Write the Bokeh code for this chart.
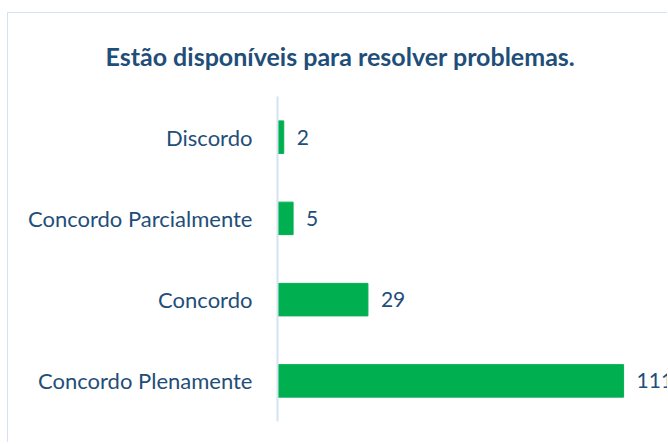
from bokeh.plotting import figure
from bokeh.models import ColumnDataSource, Title
from bokeh.embed import file_html
from bokeh.resources import INLINE
from bokeh.core.properties import value

categories = ["Concordo Plenamente", "Concordo", "Concordo Parcialmente", "Discordo"]
counts = [111, 29, 5, 2]
labels = [str(c) for c in counts]
title_text = "Estão disponíveis para resolver problemas."

FONT = "Lato"
TXT = "#1F4E79"

src = ColumnDataSource(dict(cat=categories, val=counts, lab=labels))

p = figure(width=660, height=430, y_range=categories, x_range=(0, 125.4),
           output_backend="svg", toolbar_location=None,
           min_border_left=269, min_border_right=0, min_border_top=83, min_border_bottom=22)

p.hbar(y="cat", right="val", left=0, height=0.4, source=src,
       fill_color="#00B050", line_color="#00B050")
p.text(x="val", y="cat", text="lab", source=src, x_offset=13,
       text_baseline="middle", text_align="left",
       text_font=value(FONT), text_font_size="21px", text_color=TXT)

t = Title(text=title_text, align="left", offset=-172, vertical_align="top",
          text_font=FONT, text_font_size="25px", text_font_style="bold",
          text_color=TXT, standoff=48)
p.add_layout(t, "above")

p.xaxis.visible = False
p.xgrid.visible = False
p.ygrid.visible = False
p.outline_line_color = None
yax = p.yaxis[0]
yax.axis_line_color = "#D6E2F0"
yax.axis_line_width = 2
yax.major_tick_line_color = None
yax.minor_tick_line_color = None
yax.major_label_standoff = 19
yax.major_label_text_font = FONT
yax.major_label_text_font_size = "22px"
yax.major_label_text_color = TXT
p.styles = {"border-left": "1px solid #D6E2F0", "border-top": "1px solid #D6E2F0",
            "margin-top": "12px", "margin-left": "7px"}

open("out.html", "w").write(file_html(p, INLINE))
